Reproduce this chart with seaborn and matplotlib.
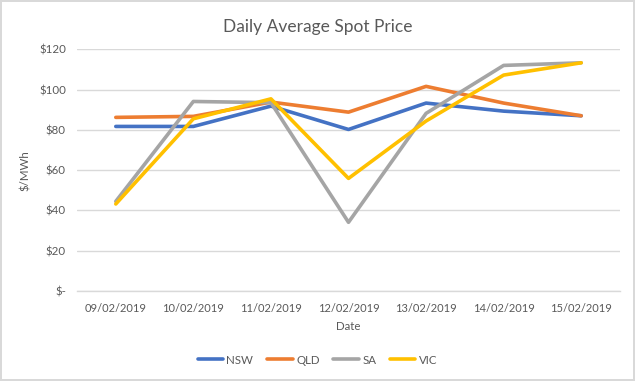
import matplotlib
matplotlib.use("Agg")
import matplotlib.pyplot as plt
import matplotlib.ticker as mticker
import pandas as pd
import seaborn as sns

dates = ['09/02/2019', '10/02/2019', '11/02/2019', '12/02/2019', '13/02/2019', '14/02/2019', '15/02/2019']
nsw = [81.7, 81.7, 91.8, 80.2, 93.3, 89.3, 87.0]
qld = [86.2, 86.7, 93.8, 88.8, 101.6, 93.3, 87.0]
sa = [44.5, 94.1, 93.5, 34.1, 88.2, 112.0, 113.3]
vic = [43.2, 85.5, 95.4, 55.9, 84.4, 107.2, 113.3]
regions = ['NSW', 'QLD', 'SA', 'VIC']
colors = ['#4472C4', '#ED7D31', '#A5A5A5', '#FFC000']
ytick_vals = [0, 20, 40, 60, 80, 100, 120]
ytick_labels = ['$-', '$20', '$40', '$60', '$80', '$100', '$120']

rows = []
for name, vals in zip(regions, [nsw, qld, sa, vic]):
    for i, v in enumerate(vals):
        rows.append({'pos': i, 'Date': dates[i], 'Price': v, 'Region': name})
df = pd.DataFrame(rows)

sns.set_style("white")
plt.rcParams['font.family'] = ['Lato', 'DejaVu Sans']
txt = '#595959'

fig = plt.figure(figsize=(6.35, 3.81), dpi=100)
fig.patch.set_edgecolor('#D9D9D9')
fig.patch.set_linewidth(1.5)
ax = fig.add_axes([77/635, 1-291/381, 543/635, (291-49.3)/381])

sns.lineplot(data=df, x='pos', y='Price', hue='Region', palette=colors,
             linewidth=2.6, ax=ax, legend=False)

ax.set_xlim(-0.5, 6.5)
ax.set_ylim(0, 120)
ax.set_yticks(ytick_vals)
ax.set_yticklabels(ytick_labels)
ax.set_xticks(range(7))
ax.set_xticklabels(dates)
ax.xaxis.set_minor_locator(mticker.FixedLocator([i - 0.5 for i in range(8)]))
ax.tick_params(axis='x', which='major', length=0, pad=9, labelsize=8, labelcolor=txt)
ax.tick_params(axis='x', which='minor', length=5, color='#D9D9D9', direction='out', width=1)
ax.tick_params(axis='y', length=0, pad=8, labelsize=8.3, labelcolor=txt)
ax.grid(axis='y', color='#D9D9D9', linewidth=1)
ax.set_axisbelow(True)
for s in ['top', 'right', 'left']:
    ax.spines[s].set_visible(False)
ax.spines['bottom'].set_color('#D9D9D9')
ax.spines['bottom'].set_linewidth(1)

ax.set_xlabel('Date', fontsize=8.3, color=txt, labelpad=5)
ax.set_ylabel('$/MWh', fontsize=8.3, color=txt, labelpad=6)
fig.text(0.5, 1 - 27/381, 'Daily Average Spot Price', ha='center', va='center', fontsize=12.5, color=txt)

handles = [plt.Line2D([], [], color=c, linewidth=2.6) for c in colors]
fig.legend(handles, regions, loc='center', bbox_to_anchor=(0.5, 1 - 360/381), ncol=4,
           frameon=False, fontsize=8.3, labelcolor=txt, handlelength=2.2,
           handletextpad=0.3, columnspacing=1.2)

fig.savefig('out.png', dpi=100, edgecolor=fig.get_edgecolor())
